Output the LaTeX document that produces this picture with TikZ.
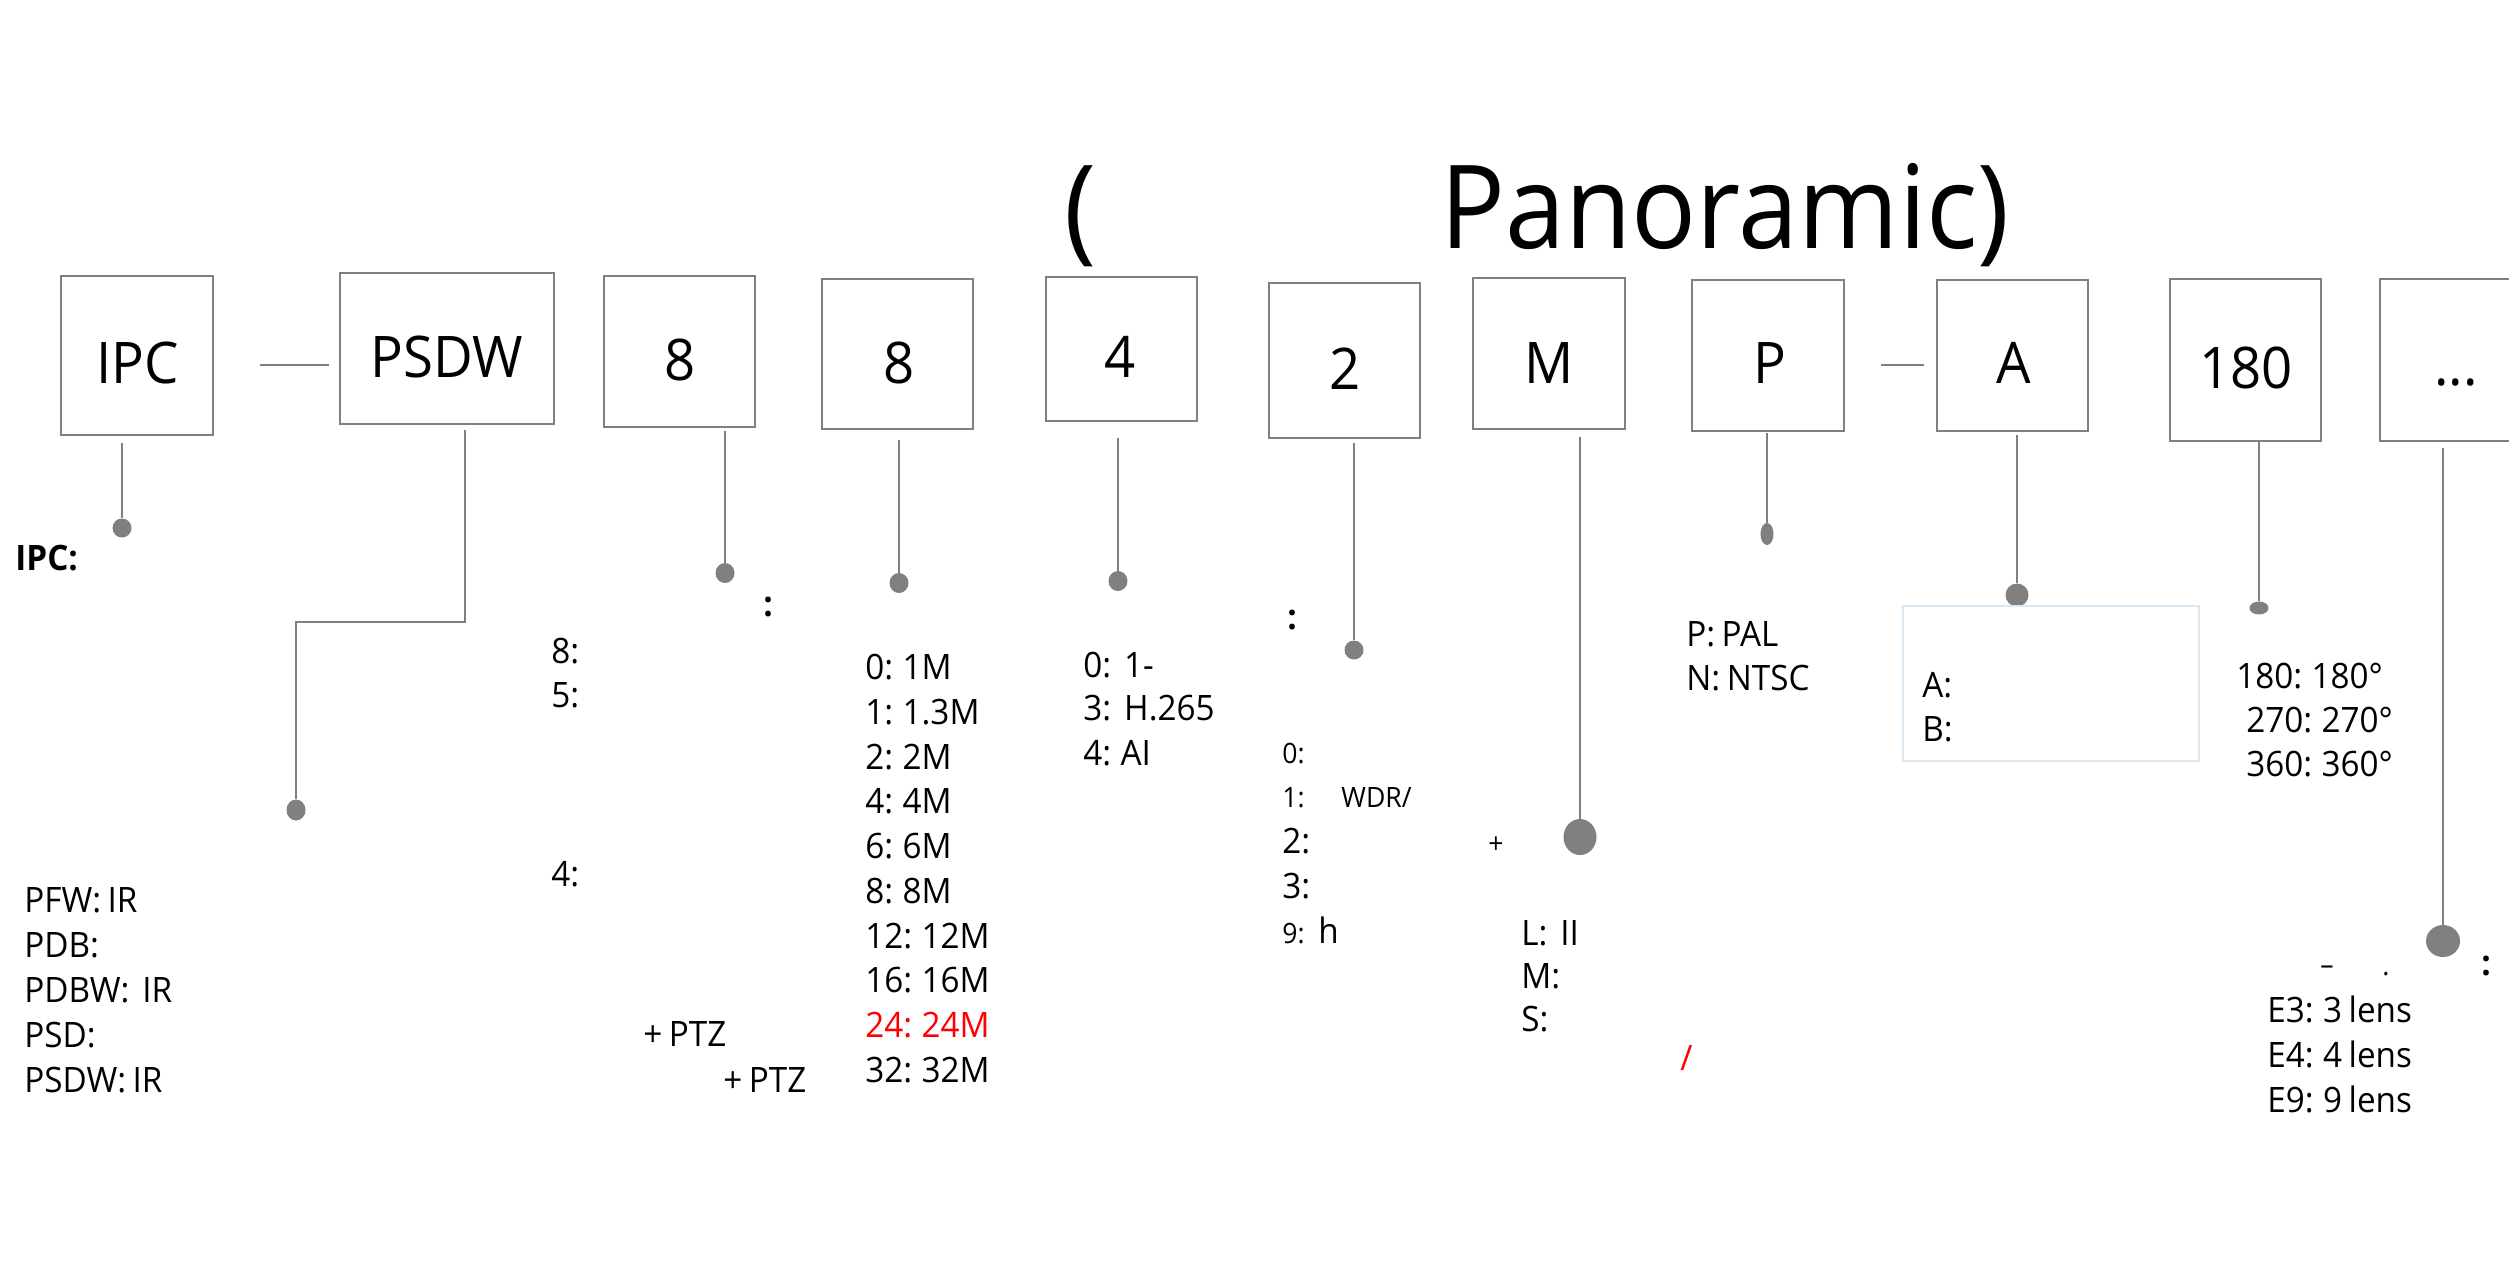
\documentclass[tikz,border=0pt]{standalone}
\usepackage{fontspec}
\setmainfont{Open Sans}[FakeStretch=0.95,WordSpace=0.75]
\newfontfamily\titlefont[FakeStretch=0.93]{Open Sans}
\usetikzlibrary{shapes.geometric}
\definecolor{boxgray}{RGB}{128,128,128}
\definecolor{dotgray}{RGB}{128,128,128}
\definecolor{paleblue}{RGB}{218,232,246}
\begin{document}
\begin{tikzpicture}[x=0.5pt,y=-0.5pt,
  box/.style 2 args={draw=boxgray,line width=1pt,inner sep=0,minimum width=#1*0.5pt,minimum height=#2*0.5pt},
  boxtxt/.style={font=\fontsize{28.7}{30}\selectfont,inner sep=0,anchor=base},
  lst/.style={font=\fontsize{17.5}{22}\selectfont,inner sep=0,anchor=base west},
  sml/.style={font=\fontsize{14}{18}\selectfont,inner sep=0,anchor=base west},
  bcol/.style={font=\fontsize{17.5}{22}\selectfont\bfseries,inner sep=0,anchor=base west},
  dotn/.style 2 args={ellipse,fill=dotgray,draw=none,inner sep=0,minimum width=#1*0.5pt,minimum height=#2*0.5pt},
  stem/.style={draw=boxgray,line width=0.8pt},
  link/.style={draw=boxgray,line width=0.8pt},
  titletxt/.style={font=\titlefont\fontsize{58}{60}\selectfont,inner sep=0,anchor=base west}
]
\fill[white] (0,0) rectangle (2509,1281);
\useasboundingbox (0,0) rectangle (2509,1281);

% title
\node[titletxt] (tl) at (1064,248) {(};
\node[titletxt] (tr) at (1440,248) {Panoramic)};

% boxes
\node[box={152}{159}] (ipc) at (137,355.5) {};
\node[box={214}{151}] (psdw) at (447,348.5) {};
\node[box={151}{151}] (b8a) at (679.5,351.5) {};
\node[box={151}{150}] (b8b) at (897.5,354) {};
\node[box={151}{144}] (b4) at (1121.5,349) {};
\node[box={151}{155}] (b2) at (1344.5,360.5) {};
\node[box={152}{151}] (bM) at (1549,353.5) {};
\node[box={152}{151}] (bP) at (1768,355.5) {};
\node[box={151}{151}] (bA) at (2012.5,355.5) {};
\node[box={151}{162}] (b180) at (2245.5,360) {};
\node[box={151}{162}] (bdots) at (2455.5,360) {};

% box texts
\node[boxtxt] (tipc) at (138,383) {IPC};
\node[boxtxt] (tpsdw) at (447,377) {PSDW};
\node[boxtxt] (t8a) at (680,380) {8};
\node[boxtxt] (t8b) at (899,383) {8};
\node[boxtxt] (t4) at (1120,377) {4};
\node[boxtxt] (t2) at (1345,389) {2};
\node[boxtxt] (tM) at (1549,383) {M};
\node[boxtxt] (tP) at (1770,383) {P};
\node[boxtxt] (tA) at (2014,383) {A};
\node[boxtxt] (t180) at (2246,388) {180};
\node[boxtxt] (tdots) at (2456,385) {...};

% links between boxes
\coordinate (lky) at (0,365);
\draw[link,shorten <=23pt,shorten >=5pt] (ipc.east |- lky) -- (psdw.west |- lky);
\draw[link,shorten <=18pt,shorten >=6pt] (bP.east |- lky) -- (bA.west |- lky);

% dots
\node[dotn={19}{19}] (dipc) at (122,528) {};
\node[dotn={19}{21}] (dpsdw) at (296,810) {};
\node[dotn={19}{20}] (d8a) at (725,573) {};
\node[dotn={19}{20}] (d8b) at (899,583) {};
\node[dotn={19}{20}] (d4) at (1118,581) {};
\node[dotn={19}{19}] (d2) at (1354,650) {};
\node[dotn={33}{36}] (dM) at (1580,837) {};
\node[dotn={13}{22}] (dP) at (1767,534) {};
\node[dotn={23}{23}] (dA) at (2017,595) {};
\node[dotn={19}{13}] (d180) at (2259,608) {};
\node[dotn={34}{32}] (ddots) at (2443,941) {};

% stems
\draw[stem,shorten >=3.5pt] (dipc) -- (dipc |- ipc.south);
\coordinate (pbend) at (465,622);
\draw[stem,shorten >=2.5pt] (dpsdw) -- (dpsdw |- pbend) -- (pbend) -- (pbend |- psdw.south);
\draw[stem,shorten >=1.5pt] (d8a) -- (d8a |- b8a.south);
\draw[stem,shorten >=5pt] (d8b) -- (d8b |- b8b.south);
\draw[stem,shorten >=8pt] (d4) -- (d4 |- b4.south);
\draw[stem,shorten >=2pt] (d2) -- (d2 |- b2.south);
\draw[stem,shorten >=3.5pt] (dM) -- (dM |- bM.south);
\draw[stem,shorten >=0.5pt] (dP) -- (dP |- bP.south);
\draw[stem,shorten >=1.5pt] (dA) -- (dA |- bA.south);
\draw[stem] (d180) -- (d180 |- b180.south);
\draw[stem,shorten >=3pt] (ddots) -- (ddots |- bdots.south);

% IPC
\node[bcol] (ipchead) at (15,570) {IPC:};
\node[lst] (l1a) at (24,912) {PFW: IR};
\node[lst] (l1b) at (24,957) {PDB:};
\node[lst] (l1c) at (24,1002) {PDBW:\ \ IR};
\node[lst] (l1d) at (24,1047) {PSD:};
\node[lst] (l1e) at (24,1092) {PSDW: IR};

% series
\node[bcol] (c8) at (763,616) {:};
\node[lst] (l2a) at (551,663) {8:};
\node[lst] (l2b) at (551,707) {5:};
\node[lst] (l2c) at (551,886) {4:};
\node[lst] (l2d) at (643,1046) {+ PTZ};
\node[lst] (l2e) at (723,1092) {+ PTZ};

% resolution
\node[lst] (r0) at (865,679) {0: 1M};
\node[lst] (r1) at (865,724) {1: 1.3M};
\node[lst] (r2) at (865,769) {2: 2M};
\node[lst] (r4) at (865,813) {4: 4M};
\node[lst] (r6) at (865,858) {6: 6M};
\node[lst] (r8) at (865,903) {8: 8M};
\node[lst] (r12) at (865,948) {12: 12M};
\node[lst] (r16) at (865,992) {16: 16M};
\node[lst,text=red] (r24) at (865,1037) {24: 24M};
\node[lst] (r32) at (865,1082) {32: 32M};

% encoding
\node[lst] (e0) at (1083,677) {0:\ \ 1-};
\node[lst] (e3) at (1083,720) {3:\ \ H.265};
\node[lst] (e4) at (1083,765) {4: AI};

% function
\node[bcol] (cf) at (1287,629) {:};
\node[sml] (f0) at (1282,763) {0:};
\node[sml] (f1) at (1282,807) {1:};
\node[sml] (f1b) at (1341,807) {WDR/};
\node[lst] (f2) at (1282,853) {2:};
\node[lst] (f3) at (1282,898) {3:};
\node[sml] (f9) at (1282,943) {9:};
\node[lst] (f9b) at (1318,943) {h};

% lens
\node[sml] (plus) at (1488,853) {+};
\node[lst] (mL) at (1521,945) {L:\ \ II};
\node[lst] (mM) at (1521,988) {M:};
\node[lst] (mS) at (1521,1031) {S:};

% video standard
\node[lst] (pP) at (1686,646) {P: PAL};
\node[lst] (pN) at (1686,690) {N: NTSC};
\node[lst,text=red] (slash) at (1680,1070) {/};

% A/B box
\node[draw=paleblue,line width=0.9pt,inner sep=0,minimum width=148pt,minimum height=77.5pt] (abbox) at (2051,683.5) {};
\node[lst] (aA) at (1922,697) {A:};
\node[lst] (aB) at (1922,741) {B:};

% angle
\node[lst] (g180) at (2236,688) {180: 180°};
\node[lst] (g270) at (2246,732) {270: 270°};
\node[lst] (g360) at (2246,776) {360: 360°};

% lenses
\node[sml] (xdash) at (2320,974) {–};
\node[sml] (xdot) at (2382,975) {.};
\node[bcol] (xcol) at (2481,975) {:};
\node[lst] (x3) at (2267,1022) {E3: 3 lens};
\node[lst] (x4) at (2267,1067) {E4: 4 lens};
\node[lst] (x9) at (2267,1112) {E9: 9 lens};
\end{tikzpicture}
\end{document}
